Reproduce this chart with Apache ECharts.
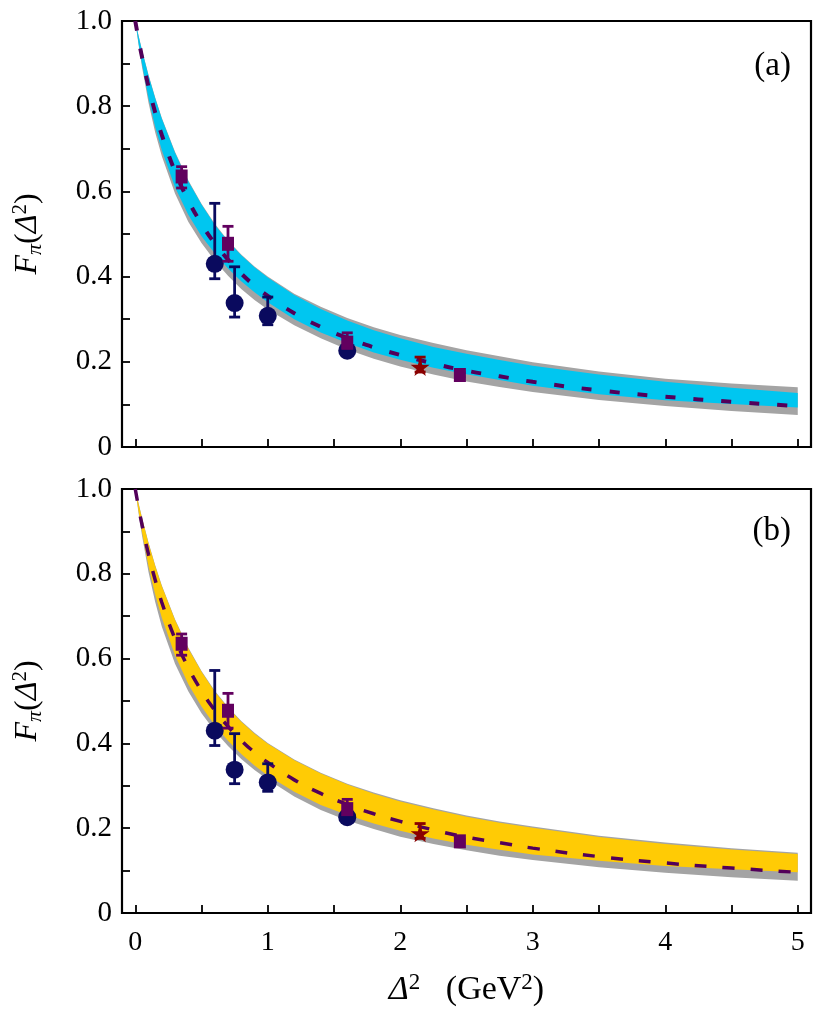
<!DOCTYPE html>
<html><head><meta charset="utf-8">
<script src="https://cdn.jsdelivr.net/npm/echarts@6/dist/echarts.min.js"></script>
<style>html,body{margin:0;padding:0;background:#fff}#c{width:836px;height:1013px}</style>
</head><body><div id="c"></div>
<script>
// ---- data ----
const xs = [0, 0.025, 0.05, 0.1, 0.15, 0.2, 0.3, 0.4, 0.5, 0.6, 0.7, 0.8, 0.9, 1.0, 1.2, 1.4, 1.6, 1.8, 2.0, 2.25, 2.5, 2.75, 3.0, 3.5, 4.0, 4.5, 5.0];
const dashedCurve = [1.0, 0.957, 0.917, 0.846, 0.786, 0.733, 0.647, 0.579, 0.524, 0.478, 0.440, 0.407, 0.379, 0.355, 0.314, 0.282, 0.256, 0.234, 0.216, 0.196, 0.179, 0.166, 0.153, 0.133, 0.118, 0.106, 0.096];
// panel (a)
const cyanHi = [1.0, 0.965, 0.932, 0.872, 0.819, 0.771, 0.691, 0.624, 0.569, 0.522, 0.483, 0.450, 0.422, 0.398, 0.357, 0.324, 0.297, 0.274, 0.255, 0.235, 0.219, 0.204, 0.191, 0.170, 0.153, 0.139, 0.127];
const cyanLo = [1.0, 0.947, 0.900, 0.818, 0.752, 0.697, 0.610, 0.545, 0.495, 0.455, 0.419, 0.389, 0.363, 0.340, 0.300, 0.269, 0.244, 0.222, 0.205, 0.186, 0.171, 0.157, 0.144, 0.124, 0.110, 0.101, 0.093];
const grayHiA = [1.0, 0.966, 0.933, 0.874, 0.821, 0.773, 0.693, 0.626, 0.571, 0.524, 0.485, 0.452, 0.424, 0.400, 0.360, 0.329, 0.303, 0.281, 0.263, 0.244, 0.227, 0.213, 0.199, 0.177, 0.160, 0.149, 0.140];
const grayLoA = [1.0, 0.944, 0.894, 0.808, 0.739, 0.683, 0.595, 0.529, 0.479, 0.437, 0.402, 0.371, 0.345, 0.323, 0.286, 0.255, 0.229, 0.207, 0.189, 0.170, 0.154, 0.141, 0.129, 0.1105, 0.096, 0.0845, 0.075];
// panel (b)
const yellowHi = [1.0, 0.965, 0.932, 0.872, 0.819, 0.771, 0.691, 0.624, 0.569, 0.522, 0.484, 0.451, 0.423, 0.399, 0.360, 0.329, 0.303, 0.281, 0.263, 0.244, 0.227, 0.213, 0.201, 0.179, 0.163, 0.150, 0.139];
const yellowLo = [1.0, 0.947, 0.900, 0.818, 0.752, 0.697, 0.608, 0.540, 0.487, 0.443, 0.406, 0.375, 0.348, 0.324, 0.286, 0.255, 0.231, 0.211, 0.194, 0.176, 0.161, 0.149, 0.138, 0.123, 0.111, 0.103, 0.096];
const grayHiB = [1.0, 0.967, 0.934, 0.874, 0.821, 0.773, 0.693, 0.626, 0.571, 0.524, 0.486, 0.453, 0.425, 0.401, 0.362, 0.331, 0.305, 0.284, 0.266, 0.247, 0.230, 0.216, 0.204, 0.182, 0.166, 0.153, 0.142];
const grayLoB = [1.0, 0.943, 0.892, 0.804, 0.734, 0.676, 0.588, 0.523, 0.471, 0.429, 0.394, 0.363, 0.337, 0.315, 0.275, 0.243, 0.218, 0.198, 0.180, 0.163, 0.148, 0.135, 0.125, 0.108, 0.095, 0.0845, 0.076];
// data points (same in both panels)
const circX  = [0.60, 0.75, 1.00, 1.60];
const circY  = [0.430, 0.338, 0.308, 0.226];
const circLo = [0.395, 0.305, 0.287, 0.222];
const circHi = [0.572, 0.423, 0.352, 0.232];
const sqX  = [0.35, 0.70, 1.60, 2.45];
const sqY  = [0.635, 0.477, 0.245, 0.169];
const sqLo = [0.608, 0.436, 0.232, 0.165];
const sqHi = [0.658, 0.518, 0.268, 0.174];
const starX  = [2.15];
const starY  = [0.188];
const starLo = [0.176];
const starHi = [0.211];
const xLabelVals = [0, 1, 2, 3, 4, 5];
const xTickVals = [0, 0.5, 1, 1.5, 2, 2.5, 3, 3.5, 4, 4.5, 5];
const yTickVals = [0, 0.1, 0.2, 0.3, 0.4, 0.5, 0.6, 0.7, 0.8, 0.9, 1.0];
const panelTags = ['(a)', '(b)'];

// ---- styling ----
const SERIF = '"Liberation Serif", "DejaVu Serif", serif';
const NAVY = '#0a0a5e', PURPLE = '#62005f', DRED = '#8a0000', DASH = '#52005a';
const STAR = 'path://M50,0 L61,35 L98,35 L68,57 L79,91 L50,70 L21,91 L32,57 L2,35 L39,35 Z';

function band(hi, lo, color, gi, z) {
  return {
    type: 'custom', xAxisIndex: gi, yAxisIndex: gi, z: z, silent: true,
    data: [[0, 0]],
    renderItem: function (params, api) {
      const pts = [];
      for (let i = 0; i < xs.length; i++) pts.push(api.coord([xs[i], hi[i]]));
      for (let i = xs.length - 1; i >= 0; i--) pts.push(api.coord([xs[i], lo[i]]));
      return { type: 'polygon', shape: { points: pts }, style: { fill: color } };
    }
  };
}
function errBars(X, Lo, Hi, color, gi, z) {
  return {
    type: 'custom', xAxisIndex: gi, yAxisIndex: gi, z: z, silent: true,
    data: X.map((x, i) => [x, Lo[i], Hi[i]]),
    encode: { x: 0, y: [1, 2] },
    renderItem: function (params, api) {
      const x = api.value(0);
      const a = api.coord([x, api.value(1)]);
      const b = api.coord([x, api.value(2)]);
      const hw = 5.5, st = { stroke: color, lineWidth: 2.8 };
      return { type: 'group', children: [
        { type: 'line', shape: { x1: a[0], y1: a[1], x2: b[0], y2: b[1] }, style: st },
        { type: 'line', shape: { x1: a[0] - hw, y1: a[1], x2: a[0] + hw, y2: a[1] }, style: st },
        { type: 'line', shape: { x1: b[0] - hw, y1: b[1], x2: b[0] + hw, y2: b[1] }, style: st }
      ]};
    }
  };
}
function scatter(X, Y, symbol, size, color, gi, z) {
  return { type: 'scatter', xAxisIndex: gi, yAxisIndex: gi, z: z, silent: true,
    symbol: symbol, symbolSize: size, itemStyle: { color: color, opacity: 1 },
    data: X.map((x, i) => [x, Y[i]]) };
}
function dashed(gi, pattern, width) {
  return { type: 'line', xAxisIndex: gi, yAxisIndex: gi, z: 3, silent: true, smooth: true,
    showSymbol: false, symbol: 'none',
    lineStyle: { color: DASH, width: width, type: pattern },
    data: xs.map((x, i) => [x, dashedCurve[i]]) };
}
function xAxis(gi, labels) {
  return { type: 'value', gridIndex: gi, min: -0.1, max: 5.1,
    splitLine: { show: false }, axisLine: { show: false, onZero: false },
    axisTick: { show: true, inside: true, length: 8, customValues: xTickVals, lineStyle: { color: '#000', width: 1.8 } },
    axisLabel: { show: labels, customValues: xLabelVals, margin: 16, color: '#000', fontFamily: SERIF, fontSize: 28,
      formatter: v => String(v) },
    name: labels ? '{d|Δ}{p|2}{n|   (GeV}{p|2}{n|)}' : '', nameLocation: 'middle', nameGap: 58,
    nameTextStyle: { color: '#000', fontFamily: SERIF, fontSize: 34,
      rich: { d: { fontStyle: 'italic', fontFamily: SERIF, fontSize: 34, lineHeight: 38, color: '#000' },
              n: { fontFamily: SERIF, fontSize: 34, lineHeight: 38, color: '#000' },
              p: { fontFamily: SERIF, fontSize: 23, lineHeight: 18, verticalAlign: 'top', color: '#000' } } }
  };
}
function yAxis(gi) {
  return { type: 'value', gridIndex: gi, min: 0, max: 1, interval: 0.2,
    splitLine: { show: false }, axisLine: { show: false, onZero: false },
    axisTick: { show: true, inside: true, length: 8, customValues: yTickVals, lineStyle: { color: '#000', width: 1.8 } },
    axisLabel: { margin: 10, color: '#000', fontFamily: SERIF, fontSize: 29,
      formatter: v => v === 0 ? '0' : v.toFixed(1) },
    name: '{f|F}{s|π}{n|(}{d|Δ}{p|2}{n|)}', nameLocation: 'middle', nameGap: 76,
    nameTextStyle: { color: '#000', fontFamily: SERIF, fontSize: 32,
      rich: {
        f: { fontStyle: 'italic', fontFamily: SERIF, fontSize: 32, lineHeight: 36, color: '#000' },
        s: { fontStyle: 'italic', fontFamily: SERIF, fontSize: 22, lineHeight: 14, verticalAlign: 'bottom', color: '#000' },
        n: { fontFamily: SERIF, fontSize: 32, lineHeight: 36, color: '#000' },
        d: { fontStyle: 'italic', fontFamily: SERIF, fontSize: 32, lineHeight: 36, color: '#000' },
        p: { fontFamily: SERIF, fontSize: 21, lineHeight: 14, verticalAlign: 'top', color: '#000' }
      } }
  };
}

const series = [];
[[cyanHi, cyanLo, grayHiA, grayLoA, '#00c6f0', [10, 18], 4], [yellowHi, yellowLo, grayHiB, grayLoB, '#ffcb05', [12, 16], 3.5]].forEach((p, gi) => {
  series.push(band(p[2], p[3], '#a4a4a4', gi, 1));
  series.push(band(p[0], p[1], p[4], gi, 2));
  series.push(dashed(gi, p[5], p[6]));
  series.push(errBars(circX, circLo, circHi, NAVY, gi, 4));
  series.push(scatter(circX, circY, 'circle', 18, NAVY, gi, 5));
  series.push(errBars(sqX, sqLo, sqHi, PURPLE, gi, 6));
  series.push(scatter(sqX, sqY, 'rect', [12, 14], PURPLE, gi, 7));
  series.push(errBars(starX, starLo, starHi, DRED, gi, 8));
  series.push(scatter(starX, starY, STAR, [19, 18], DRED, gi, 9));
});

const chart = echarts.init(document.getElementById('c'));
chart.setOption({
  animation: false,
  backgroundColor: '#fff',
  grid: [
    { left: 122, top: 21, width: 689, height: 426, show: true, borderColor: '#000', borderWidth: 2.2, backgroundColor: 'transparent' },
    { left: 122, top: 489, width: 689, height: 424, show: true, borderColor: '#000', borderWidth: 2.2, backgroundColor: 'transparent' }
  ],
  xAxis: [xAxis(0, false), xAxis(1, true)],
  yAxis: [yAxis(0), yAxis(1)],
  graphic: panelTags.map((t, i) => ({
    type: 'text', x: 791, y: i === 0 ? 66 : 531, z: 50,
    style: { text: t, textAlign: 'right', textVerticalAlign: 'middle', font: '33px ' + SERIF, fill: '#000' }
  })),
  series: series
});
</script></body></html>
